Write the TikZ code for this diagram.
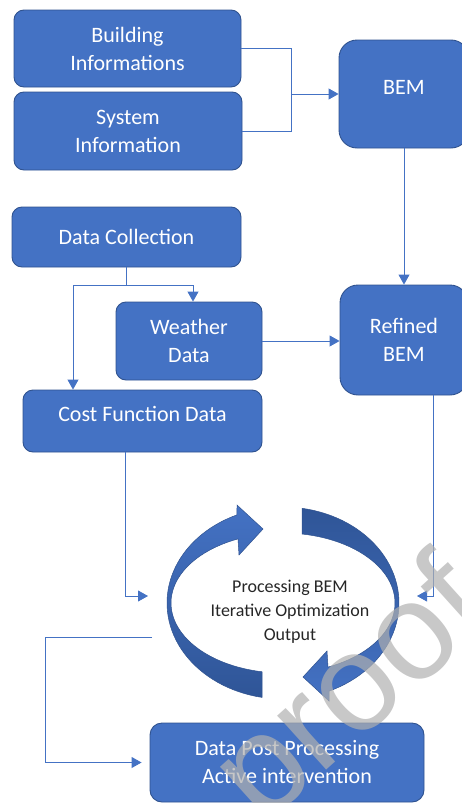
\documentclass[tikz,border=0pt]{standalone}
\usepackage{fontspec}
\setmainfont{Carlito}
\newfontfamily\markfont{Liberation Sans}
\usetikzlibrary{arrows.meta}
\definecolor{boxblue}{HTML}{4472C4}
\definecolor{boxedge}{HTML}{2F528F}
\definecolor{linkblue}{HTML}{4472C4}
\definecolor{loopdark}{HTML}{2F5597}
\definecolor{looplight}{HTML}{4472C4}
\definecolor{looptext}{HTML}{262626}
\definecolor{wmgray}{HTML}{B0B0B0}
\begin{document}
\begin{tikzpicture}[x=1pt,y=-1pt,
  boxtext/.style={text=white, font=\fontsize{22}{28}\selectfont, align=center},
  box/.style={boxtext, draw=boxedge, line width=0.9pt, fill=boxblue,
    rounded corners=10pt, inner sep=0pt},
  link/.style={draw=linkblue, line width=0.9pt},
  tip/.style={-{Triangle[length=10pt,width=11pt]}},
  looparrow/.style={draw=boxedge, line width=0.5pt},
]
\useasboundingbox (0,0) rectangle (462,803);
\clip (0,0) rectangle (462,803);

% input boxes
\node[box, minimum width=227pt, minimum height=77pt] (bi) at (127.5,48.5) {Building\\Informations};
\node[box, minimum width=228pt, minimum height=78pt] (si) at (128,131) {System\\Information};
\node[box, minimum width=130pt, minimum height=108pt, rounded corners=18pt,
  label={[boxtext,yshift=7pt]center:BEM}] (bem) at (404,94) {};

\node[box, minimum width=229pt, minimum height=60pt] (dc) at (126.5,237) {Data Collection};
\node[box, minimum width=146pt, minimum height=78pt] (wd) at (189,341) {Weather\\Data};
\node[box, minimum width=128pt, minimum height=110pt, rounded corners=18pt] (rbem) at (404,340) {Refined\\BEM};
\node[box, minimum width=239pt, minimum height=62pt,
  label={[boxtext,yshift=7pt]center:Cost Function Data}] (cf) at (142.5,421) {};

\node[box, minimum width=274pt, minimum height=79pt, rounded corners=12pt] (pp) at (287,762.5)
  {Data Post Processing\\Active intervention};

% iterative loop: two curved arrows
\shadedraw[looparrow, top color=looplight, bottom color=loopdark]
  plot[domain=259.57:113.37, samples=50] ({283+116*cos(\x)},{603-96*sin(\x)})
  -- (237,505) -- (263,529) -- (239,555)
  -- plot[domain=113.69:259.2, samples=50] ({283+112*cos(\x)},{603-70*sin(\x)})
  -- cycle;
\shadedraw[looparrow, top color=loopdark, bottom color=looplight]
  plot[domain=80.57:-66.63, samples=50] ({283+116*cos(\x)},{603-96*sin(\x)})
  -- (329,701) -- (303,677) -- (327,651)
  -- plot[domain=-66.31:80.23, samples=50] ({283+112*cos(\x)},{603-70*sin(\x)})
  -- cycle;

\node[font=\fontsize{18}{24}\selectfont, text=looptext, align=center] (proc) at (290,612)
  {Processing BEM\\Iterative Optimization\\Output};

% connectors
\coordinate (join) at (291,94);
\draw[link] (bi.east) -| (join);
\draw[link] (si.east) -| (join);
\draw[link,tip] (join) -- (bem.west);
\draw[link,tip] (bem.south) -- (rbem.north);

\coordinate (split) at (126.5,285);
\draw[link] (dc.south) -- (split);
\draw[link,tip] (split) -| ([xshift=4pt]wd.north);
\draw[link,tip] (split) -| ([xshift=-69.5pt]cf.north);
\draw[link,tip] (wd.east) -- (wd.east -| rbem.west);

\coordinate (loopin) at (148,596);
\coordinate (loopinR) at (417,596);
\coordinate (loopout) at (152,637);
\draw[link,tip] ([xshift=-17.5pt]cf.south) |- (loopin);
\draw[link,tip] ([xshift=29pt]rbem.south) |- (loopinR);
\draw[link,tip] (loopout) -- ++(-107,0) |- ([xshift=-8pt]pp.west);

% watermark
\node[font=\markfont\fontsize{138}{138}\selectfont, text=wmgray, opacity=0.7, rotate=42,
  inner sep=0pt] (wm) at (356,696) {proof};
\end{tikzpicture}
\end{document}
